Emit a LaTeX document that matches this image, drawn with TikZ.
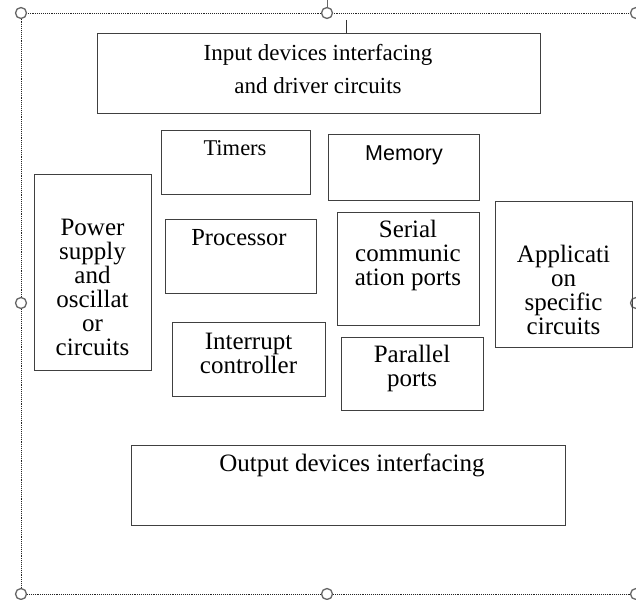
\documentclass[tikz,border=0pt]{standalone}
\usepackage{fontspec}
\setmainfont{Liberation Serif}
\newfontfamily\armfont{Liberation Sans}
\usetikzlibrary{positioning}

\tikzset{
	blk/.style={draw=black!75, line width=0.9pt, inner sep=0pt, anchor=north west},
	txt/.style={align=center, inner sep=0pt, font=\fontsize{25}{24}\selectfont},
	handle/.style={circle, minimum size=11pt, draw=black!60, fill=white, line width=1.3pt, inner sep=0pt}
}

\begin{document}
\begin{tikzpicture}[x=1pt, y=-1pt]
	\useasboundingbox (0,0) rectangle (636,599);
	
	% selection frame round the drawing
	\draw[densely dotted, black!85, line width=0.9pt] (21,13) rectangle (637,594);
	\coordinate (rot) at (327,0);
	\coordinate (cur) at (346,20);
	\foreach \n/\x/\y in {tl/21/13, tm/327/13, tr/636/13, ml/21/303, mr/636/303, bl/21/594, bm/327/594, br/636/594}
		\node[handle] (h\n) at (\x,\y) {};
	\draw[black!60, line width=0.8pt] (rot) -- (htm.north);
	\draw[black!80, line width=0.8pt] (cur) -- ++(0,13);
	
	% blocks
	\node[blk, minimum width=443, minimum height=80] (input) at (97,33) {};
	\node[blk, minimum width=149, minimum height=64] (timers) at (161,130) {};
	\node[blk, minimum width=151, minimum height=66] (memory) at (328,134) {};
	\node[blk, minimum width=117, minimum height=196] (power) at (34,174) {};
	\node[blk, minimum width=151, minimum height=74] (proc) at (165,219) {};
	\node[blk, minimum width=142, minimum height=113] (serial) at (337,212) {};
	\node[blk, minimum width=137, minimum height=146] (appl) at (495,201) {};
	\node[blk, minimum width=153, minimum height=74] (intr) at (172,322) {};
	\node[blk, minimum width=142, minimum height=73] (par) at (341,337) {};
	\node[blk, minimum width=434, minimum height=80] (output) at (131,445) {};
	
	% texts
	\node[txt, font=\fontsize{23}{33}\selectfont] (inputtxt) at (318,69)
	{Input devices interfacing\\and driver circuits};
	\node[txt, font=\fontsize{22.5}{24}\selectfont, text height=16, text depth=5] (timerstxt) at (235,150) {Timers};
	\node[txt, font=\armfont\fontsize{21.5}{24}\selectfont, text height=16, text depth=5] (memorytxt) at (404,155) {Memory};
	\node[txt] (powertxt) at (92.5,287)
	{Power\\supply\\and\\oscillat\\or\\circuits};
	\node[txt, font=\fontsize{24.5}{24}\selectfont, text height=17, text depth=6] (proctxt) at (239,240) {Processor};
	\node[txt] (serialtxt) at (408,255)
	{Serial\\communic\\ation ports};
	\node[txt] (appltxt) at (563.5,290)
	{Applicati\\on\\specific\\circuits};
	\node[txt] (intrtxt) at (248.5,353)
	{Interrupt\\controller};
	\node[txt] (partxt) at (412,368)
	{Parallel\\ports};
	\node[txt, text height=17, text depth=6] (outputtxt) at (352,466)
	{Output devices interfacing};
	
\end{tikzpicture}
\end{document}
